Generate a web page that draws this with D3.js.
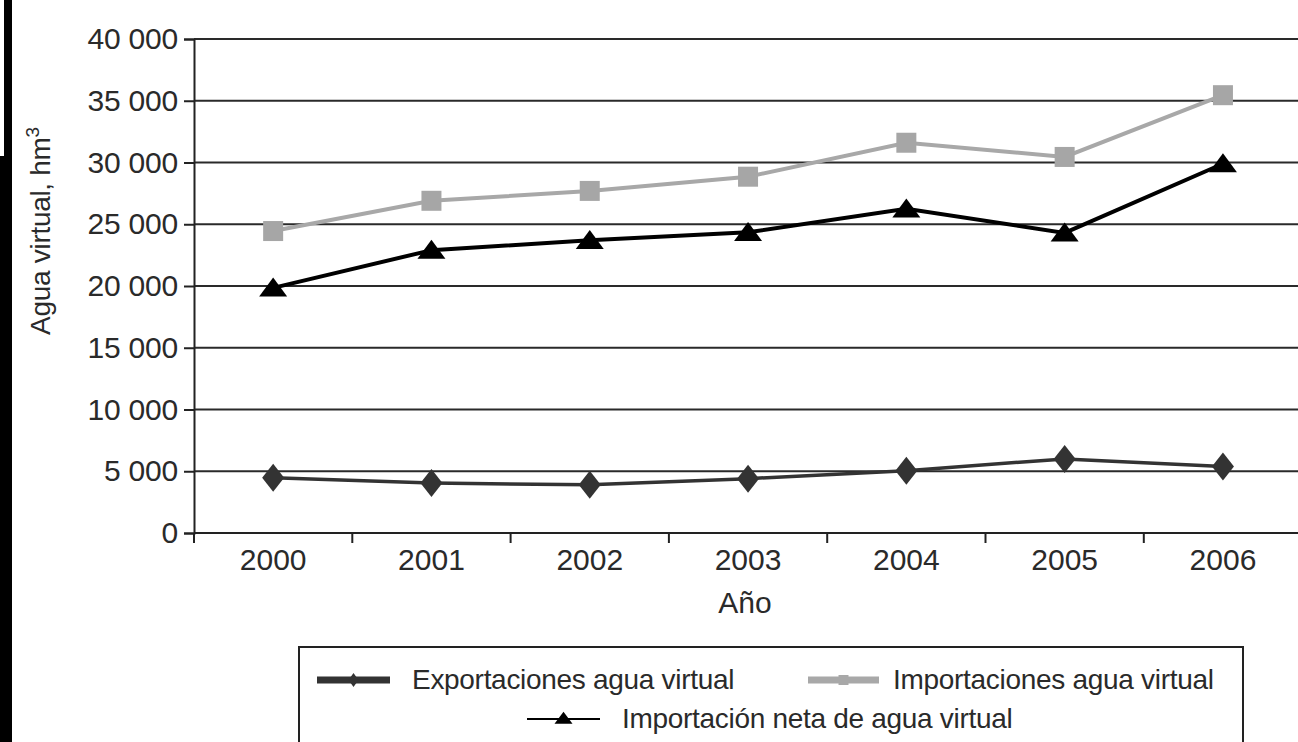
<!DOCTYPE html>
<html>
<head>
<meta charset="utf-8">
<script src="https://cdn.jsdelivr.net/npm/d3@7"></script>
<style>
  html, body { margin: 0; padding: 0; background: #fff; }
  svg { display: block; font-family: "Liberation Sans", Arial, sans-serif; }
</style>
</head>
<body>
<div id="chart"></div>
<script>
// data
const years = ["2000", "2001", "2002", "2003", "2004", "2005", "2006"];
const exportaciones = [4470, 4050, 3900, 4400, 5050, 6000, 5380];
const importaciones = [24450, 26900, 27700, 28850, 31600, 30450, 35450];
const netas = [19850, 22900, 23700, 24350, 26250, 24300, 29900];
const yTicks = [0, 5000, 10000, 15000, 20000, 25000, 30000, 35000, 40000];
const legendNames = ["Exportaciones agua virtual", "Importaciones agua virtual", "Importación neta de agua virtual"];

const W = 1298, H = 742;
const margin = { top: 39, left: 194, bottom: 533 };

const svg = d3.select("#chart").append("svg")
  .attr("width", W)
  .attr("height", H);

// scan border on the left edge
svg.append("rect").attr("x", 4).attr("y", 0).attr("width", 8).attr("height", 158).attr("fill", "#000");
svg.append("rect").attr("x", 0).attr("y", 156).attr("width", 12).attr("height", H - 156).attr("fill", "#000");

const x = d3.scaleBand()
  .domain(years)
  .range([margin.left, margin.left + 7 * 158.3]);

const y = d3.scaleLinear()
  .domain([0, 40000])
  .range([margin.bottom, margin.top]);

const fmt = d3.formatLocale({ decimal: ",", thousands: " ", grouping: [3], currency: ["", ""] }).format(",");

// gridlines
svg.append("g")
  .selectAll("line")
  .data(yTicks.filter(d => d > 0))
  .enter().append("line")
  .attr("x1", margin.left)
  .attr("x2", W)
  .attr("y1", d => y(d))
  .attr("y2", d => y(d))
  .attr("stroke", "#2a2a2a")
  .attr("stroke-width", 2);

// y axis
const yAxis = svg.append("g")
  .attr("transform", "translate(" + margin.left + ",0)")
  .call(d3.axisLeft(y).tickValues(yTicks).tickFormat(fmt).tickSize(10).tickPadding(6));
yAxis.select(".domain").attr("stroke", "#222").attr("stroke-width", 2);
yAxis.selectAll(".tick line").attr("stroke", "#222").attr("stroke-width", 2);
yAxis.selectAll("text")
  .attr("font-size", 30)
  .attr("fill", "#2a2a2a")
  .attr("letter-spacing", -0.2)
  .attr("font-family", "Liberation Sans, Arial, sans-serif");

// x axis
const xAxis = svg.append("g")
  .attr("transform", "translate(0," + margin.bottom + ")")
  .call(d3.axisBottom(x).tickSize(0).tickPadding(16));
xAxis.select(".domain").remove();
xAxis.selectAll("text")
  .attr("font-size", 30)
  .attr("fill", "#2a2a2a")
  .attr("font-family", "Liberation Sans, Arial, sans-serif");
svg.append("line")
  .attr("x1", margin.left).attr("x2", W)
  .attr("y1", margin.bottom).attr("y2", margin.bottom)
  .attr("stroke", "#222").attr("stroke-width", 2);
svg.append("g")
  .selectAll("line")
  .data(years)
  .enter().append("line")
  .attr("x1", d => x(d)).attr("x2", d => x(d))
  .attr("y1", margin.bottom).attr("y2", margin.bottom + 10)
  .attr("stroke", "#222").attr("stroke-width", 2);

// axis titles
svg.append("text")
  .attr("x", x("2003") + x.bandwidth() / 2 - 3)
  .attr("y", 613)
  .attr("text-anchor", "middle")
  .attr("font-size", 30)
  .attr("fill", "#2a2a2a")
  .text("Año");

const yTitle = svg.append("text")
  .attr("transform", "translate(50,231) rotate(-90)")
  .attr("text-anchor", "middle")
  .attr("font-size", 28)
  .attr("letter-spacing", -0.3)
  .attr("fill", "#2a2a2a");
yTitle.append("tspan").text("Agua virtual, hm");
yTitle.append("tspan").attr("font-size", 19).attr("dy", -11).text("3");

const cx = d => x(d) + x.bandwidth() / 2;
const line = d3.line().x((d, i) => cx(years[i])).y(d => y(d));

// series
svg.append("path").datum(importaciones)
  .attr("fill", "none").attr("stroke", "#a8a8a8").attr("stroke-width", 4)
  .attr("d", line);
svg.append("path").datum(exportaciones)
  .attr("fill", "none").attr("stroke", "#333").attr("stroke-width", 3.5)
  .attr("d", line);
svg.append("path").datum(netas)
  .attr("fill", "none").attr("stroke", "#000").attr("stroke-width", 4)
  .attr("d", line);

const diamond = (w, h) => "M0," + (-h) + "L" + w + ",0L0," + h + "L" + (-w) + ",0Z";
const triangle = (w, h) => "M0," + (-h * 0.6) + "L" + w + "," + (h * 0.4) + "L" + (-w) + "," + (h * 0.4) + "Z";

svg.append("g").selectAll("path")
  .data(exportaciones)
  .enter().append("path")
  .attr("transform", (d, i) => "translate(" + cx(years[i]) + "," + y(d) + ")")
  .attr("d", diamond(11, 14))
  .attr("fill", "#333");

svg.append("g").selectAll("rect")
  .data(importaciones)
  .enter().append("rect")
  .attr("x", (d, i) => cx(years[i]) - 10)
  .attr("y", d => y(d) - 10)
  .attr("width", 20).attr("height", 20)
  .attr("fill", "#a6a6a6");

svg.append("g").selectAll("path")
  .data(netas)
  .enter().append("path")
  .attr("transform", (d, i) => "translate(" + cx(years[i]) + "," + (y(d) + 1) + ")")
  .attr("d", triangle(14, 19))
  .attr("fill", "#000");

// legend
const lg = svg.append("g");
lg.append("rect")
  .attr("x", 299).attr("y", 647)
  .attr("width", 944).attr("height", 110)
  .attr("fill", "none").attr("stroke", "#222").attr("stroke-width", 2);

const legendItems = [
  { name: legendNames[0], x1: 317, x2: 390, yy: 680, color: "#333", sw: 7, mark: "diamond", tx: 412 },
  { name: legendNames[1], x1: 808, x2: 879, yy: 680, color: "#a8a8a8", sw: 7, mark: "square", tx: 893 },
  { name: legendNames[2], x1: 527, x2: 600, yy: 719, color: "#000", sw: 2, mark: "triangle", tx: 622 }
];
const li = lg.selectAll("g.item").data(legendItems).enter().append("g").attr("class", "item");
li.append("line")
  .attr("x1", d => d.x1).attr("x2", d => d.x2)
  .attr("y1", d => d.yy).attr("y2", d => d.yy)
  .attr("stroke", d => d.color).attr("stroke-width", d => d.sw);
li.append("path")
  .attr("transform", d => "translate(" + (d.x1 + d.x2) / 2 + "," + d.yy + ")")
  .attr("d", d => d.mark === "diamond" ? diamond(5, 7)
    : d.mark === "square" ? "M-5,-5H5V5H-5Z"
    : triangle(9, 12))
  .attr("fill", d => d.color);
li.append("text")
  .attr("x", d => d.tx).attr("y", d => d.yy + 9)
  .attr("font-size", 28)
  .attr("letter-spacing", -0.3)
  .attr("fill", "#2a2a2a")
  .text(d => d.name);
</script>
</body>
</html>
